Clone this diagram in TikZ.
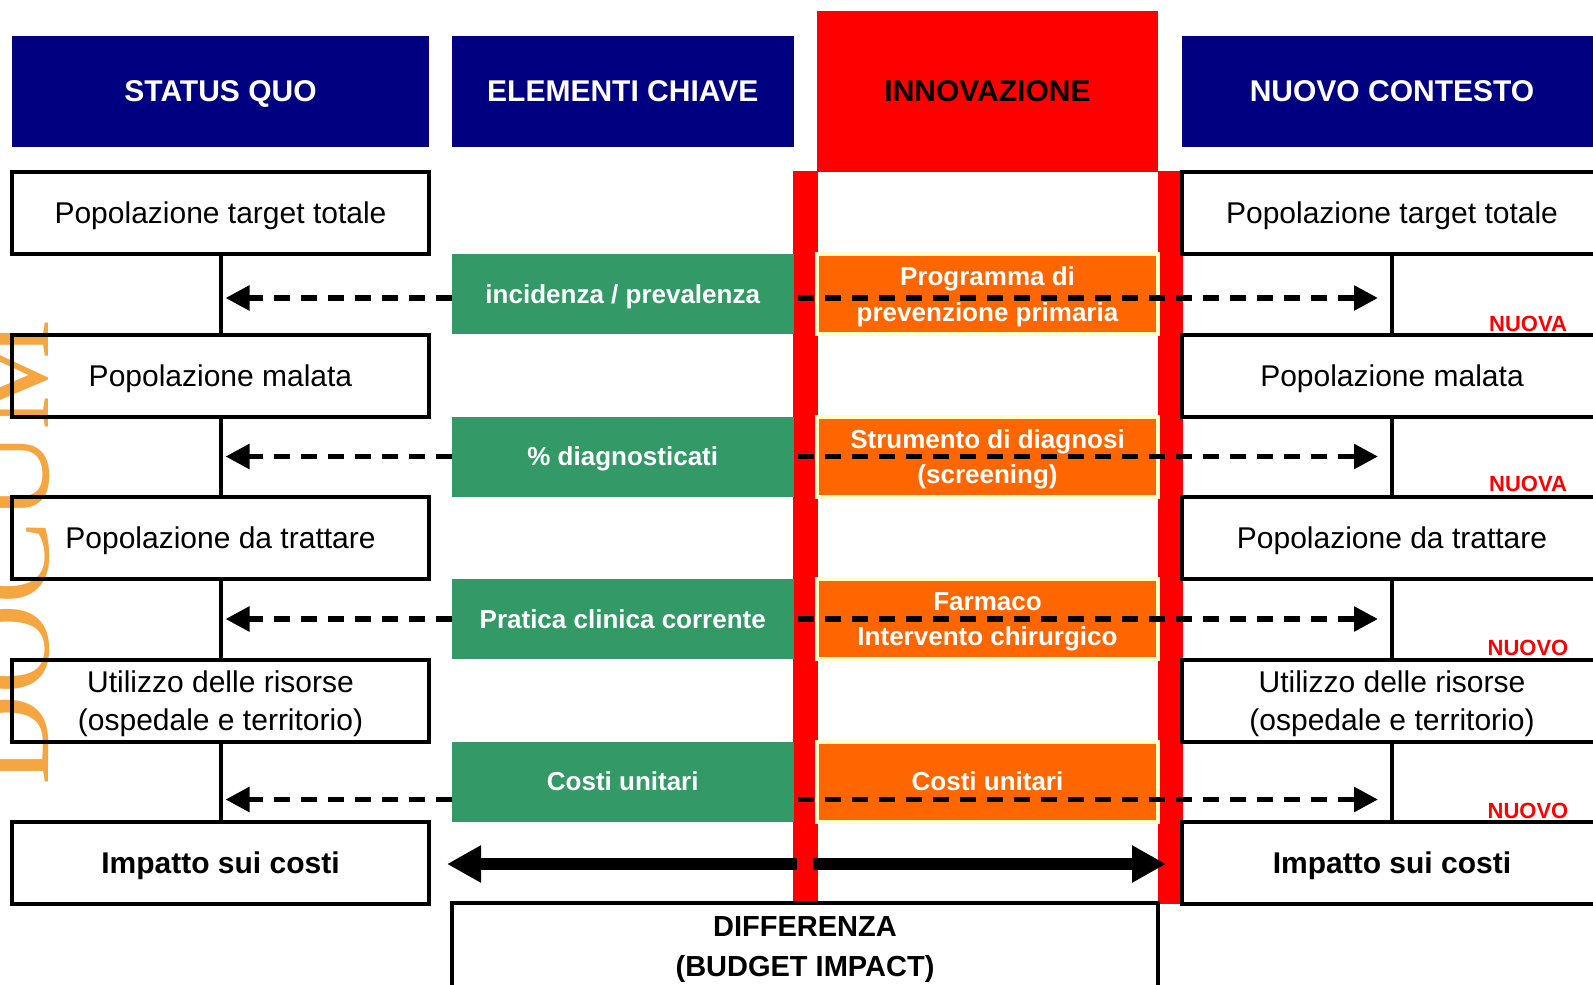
\documentclass[tikz,border=0pt]{standalone}
\usepackage{fontspec}
\setmainfont{Liberation Sans}
\newfontfamily\wmfont{Liberation Serif}
\usetikzlibrary{
	arrows.meta		% Triangle tips
	, calc
}
\definecolor{hdrblue}{RGB}{0,0,128}
\definecolor{keygreen}{RGB}{51,153,102}
\definecolor{innorange}{RGB}{255,102,0}
\definecolor{innborder}{RGB}{255,255,204}
\definecolor{wmorange}{RGB}{245,166,64}

\begin{document}
\begin{tikzpicture}[x=0.5pt, y=-0.5pt]
	\useasboundingbox (0,0) rectangle (1593,984);
	\clip (0,0) rectangle (1593,984);
	\begin{scope}[
		every node/.style={inner sep=0, outer sep=0, align=center, text depth=0pt},
		header/.style={fill=hdrblue, text=white, minimum height=55.5pt, font=\bfseries\fontsize{15pt}{18pt}\selectfont},
		stage/.style={draw=black, line width=2pt, minimum width=208.5pt, minimum height=41pt, font=\fontsize{15pt}{19.3pt}\selectfont},
		newstage/.style={stage, minimum width=210pt},
		keyel/.style={fill=keygreen, text=white, minimum width=170.75pt, minimum height=40pt, font=\bfseries\fontsize{13pt}{17.75pt}\selectfont},
		innov/.style={fill=innorange, draw=innborder, line width=2pt, text=white, minimum width=170.5pt, minimum height=40pt, font=\bfseries\fontsize{13pt}{17.75pt}\selectfont},
		flag/.style={text=red, anchor=base, font=\bfseries\fontsize{11pt}{12pt}\selectfont},
		link/.style={line width=2pt},
		feed/.style={line width=2.8pt, dash pattern=on 8pt off 5.5pt, -{Triangle[length=12pt, width=12pt]}},
		gap/.style={line width=6pt, -{Triangle[length=17pt, width=17.5pt]}}]

		% Watermark
		\node[rotate=90, anchor=base west, text=wmorange, font=\wmfont\fontsize{62.5pt}{62.5pt}\selectfont] (wm) at (48,785) {DOCUM};

		% Red frame of the innovation column
		\fill[red] (793,171) rectangle (818,902);
		\fill[red] (1158,171) rectangle (1183,904);

		%% Headers
		\node[header, minimum width=208.5pt] (hsq) at (220.5,91.5) {STATUS QUO};
		\node[header, minimum width=170.75pt] (hke) at (622.75,91.5) {ELEMENTI CHIAVE};
		\node[header, fill=red, text=black, minimum width=170.5pt, minimum height=80.5pt] (hin) at (987.5,91.5) {INNOVAZIONE};
		\node[header, minimum width=210pt] (hnc) at (1392,91.5) {NUOVO CONTESTO};

		%% Status quo
		\node[stage] (a1) at (220.5,213) {Popolazione target totale};
		\node[stage] (a2) at (220.5,375.5) {Popolazione malata};
		\node[stage] (a3) at (220.5,538) {Popolazione da trattare};
		\node[stage] (a4) at (220.5,700.5) {Utilizzo delle risorse\\(ospedale e territorio)};
		\node[stage, font=\bfseries\fontsize{15pt}{19.3pt}\selectfont] (a5) at (220.5,863) {Impatto sui costi};

		%% Nuovo contesto
		\node[newstage] (b1) at (1392,213) {Popolazione target totale};
		\node[newstage] (b2) at (1392,375.5) {Popolazione malata};
		\node[newstage] (b3) at (1392,538) {Popolazione da trattare};
		\node[newstage] (b4) at (1392,700.5) {Utilizzo delle risorse\\(ospedale e territorio)};
		\node[newstage, font=\bfseries\fontsize{15pt}{19.3pt}\selectfont] (b5) at (1392,863) {Impatto sui costi};

		%% Elementi chiave
		\node[keyel] (g1) at (622.75,294) {incidenza / prevalenza};
		\node[keyel] (g2) at (622.75,456.5) {\% diagnosticati};
		\node[keyel] (g3) at (622.75,619) {Pratica clinica corrente};
		\node[keyel] (g4) at (622.75,781.5) {Costi unitari};

		%% Innovazione
		\node[innov] (o1) at (987.5,294) {Programma di\\prevenzione primaria};
		\node[innov] (o2) at (987.5,456.5) {Strumento di diagnosi\\(screening)};
		\node[innov] (o3) at (987.5,619) {Farmaco\\Intervento chirurgico};
		\node[innov] (o4) at (987.5,781.5) {Costi unitari};

		% Differenza
		\node[stage, font=\bfseries\fontsize{14.5pt}{20pt}\selectfont, minimum width=353pt, minimum height=44pt] (d) at (805,947) {DIFFERENZA\\(BUDGET IMPACT)};

		% Vertical links
		\foreach \i/\j in {1/2,2/3,3/4,4/5} {
			\draw[link] (a\i.south) -- (a\j.north);
			\draw[link] (b\i.south) -- (b\j.north);
		}

		% Dashed arrows
		\coordinate (c1) at ([yshift=-2pt]g1.west);
		\coordinate (c2) at (g2.west);
		\coordinate (c3) at (g3.west);
		\coordinate (c4) at ([yshift=-9pt]g4.west);
		\foreach \i in {1,...,4} {
			\draw[feed, shorten >=2.5pt] (c\i) -- (c\i -| a\i.south);
			\draw[feed, shorten <=2pt, shorten >=7pt] (c\i -| g\i.east) -- (c\i -| b\i.south);
		}

		% Row labels
		\node[flag] (n1) at (1528,331) {NUOVA};
		\node[flag] (n2) at (1528,491) {NUOVA};
		\node[flag] (n3) at (1528,655) {NUOVO};
		\node[flag] (n4) at (1528,818) {NUOVO};

		% Budget impact arrows
		\coordinate (gapL) at (797,864);
		\coordinate (gapR) at (813,864);
		\draw[gap, shorten >=-2.5pt] (gapL) -- (gapL -| d.west);
		\draw[gap, shorten >=-4pt] (gapR) -- (gapR -| d.east);
	\end{scope}
\end{tikzpicture}
\end{document}
